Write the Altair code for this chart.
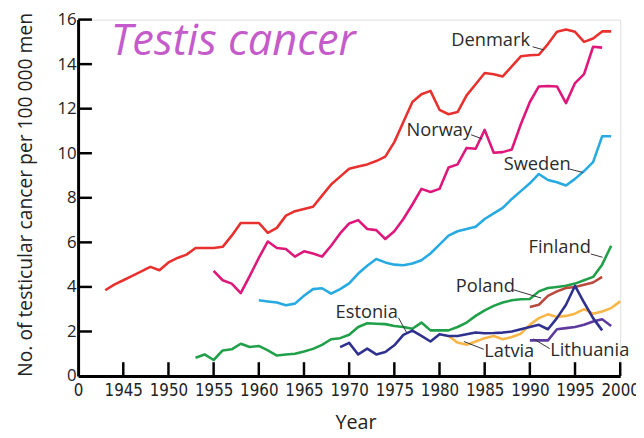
import altair as alt
import pandas as pd

countries = ["Denmark", "Norway", "Sweden", "Finland", "Poland", "Latvia", "Lithuania", "Estonia"]
colors = ["#E8312F", "#E0177A", "#27AAE1", "#21A04A", "#B84A3E", "#F9B648", "#5E3A9E", "#2F318F"]

denmark_years = list(range(1943, 2000))
denmark_vals = [3.85, 4.1, 4.3, 4.5, 4.7, 4.9, 4.75, 5.1, 5.3, 5.45,
                5.75, 5.75, 5.75, 5.8, 6.3, 6.87, 6.87, 6.87, 6.43, 6.65,
                7.2, 7.4, 7.5, 7.6, 8.1, 8.6, 8.95, 9.3, 9.4, 9.5,
                9.65, 9.85, 10.5, 11.4, 12.3, 12.65, 12.8, 11.95, 11.75, 11.85,
                12.6, 13.1, 13.6, 13.55, 13.45, 13.9, 14.35, 14.4, 14.42, 14.9,
                15.45, 15.55, 15.45, 15.0, 15.15, 15.47, 15.47]

norway_years = list(range(1955, 1999))
norway_vals = [4.72, 4.3, 4.15, 3.72, 4.5, 5.3, 6.04, 5.75, 5.7, 5.36,
               5.6, 5.5, 5.36, 5.85, 6.4, 6.85, 7.0, 6.6, 6.55, 6.15,
               6.5, 7.05, 7.7, 8.4, 8.26, 8.4, 9.36, 9.5, 10.24, 10.2,
               11.05, 10.02, 10.05, 10.17, 11.3, 12.3, 13.0, 13.02, 13.0, 12.25,
               13.15, 13.55, 14.78, 14.74]

sweden_years = list(range(1960, 2000))
sweden_vals = [3.4, 3.35, 3.3, 3.18, 3.25, 3.6, 3.9, 3.94, 3.7, 3.9,
               4.16, 4.6, 4.95, 5.25, 5.1, 5.0, 4.97, 5.05, 5.2, 5.5,
               5.9, 6.3, 6.5, 6.6, 6.7, 7.05, 7.3, 7.55, 7.95, 8.3,
               8.65, 9.07, 8.8, 8.7, 8.55, 8.85, 9.2, 9.6, 10.76, 10.76]

finland_years = list(range(1953, 2000))
finland_vals = [0.82, 0.97, 0.72, 1.15, 1.2, 1.45, 1.3, 1.35, 1.15, 0.92,
                0.97, 1.0, 1.1, 1.22, 1.4, 1.65, 1.7, 1.85, 2.2, 2.37,
                2.35, 2.33, 2.25, 2.2, 2.12, 2.4, 2.05, 2.05, 2.05, 2.2,
                2.4, 2.7, 2.95, 3.15, 3.3, 3.4, 3.45, 3.46, 3.8, 3.95,
                4.0, 4.05, 4.15, 4.3, 4.45, 5.0, 5.85]

poland_years = list(range(1990, 1999))
poland_vals = [3.1, 3.2, 3.6, 3.8, 3.95, 4.0, 4.1, 4.2, 4.45]

estonia_years = list(range(1969, 1999))
estonia_vals = [1.3, 1.49, 0.97, 1.23, 0.97, 1.08, 1.38, 1.85, 2.04, 1.8,
                1.55, 1.88, 1.8, 1.8, 1.88, 1.95, 1.92, 1.93, 1.95, 2.0,
                2.1, 2.2, 2.3, 2.1, 2.6, 3.2, 4.05, 3.3, 2.6, 2.05]

latvia_years = list(range(1981, 2001))
latvia_vals = [1.8, 1.5, 1.4, 1.55, 1.7, 1.8, 1.65, 1.75, 1.9, 2.3,
               2.6, 2.77, 2.65, 2.7, 2.8, 3.0, 2.8, 2.9, 3.05, 3.35]

lithuania_years = list(range(1990, 2000))
lithuania_vals = [1.6, 1.6, 1.6, 2.1, 2.15, 2.2, 2.3, 2.45, 2.55, 2.25]

x_ticks = [1940, 1945, 1950, 1955, 1960, 1965, 1970, 1975, 1980, 1985, 1990, 1995, 2000]
y_ticks = [0, 2, 4, 6, 8, 10, 12, 14, 16]

# label annotations (text anchor + leader line in data units)
label_names = ["Denmark", "Norway", "Sweden", "Finland", "Poland", "Estonia", "Latvia", "Lithuania"]
label_x = [1981.3, 1976.35, 1987.1, 1989.85, 1981.8, 1968.5, 1984.95, 1992.25]
label_y = [15.08, 11.05, 9.51, 5.77, 4.04, 2.86, 1.1, 1.16]
leader_x1 = [1990.3, 1983.5, 1994.4, 1996.75, 1988.2, 1975.45, 1984.9, 1992.2]
leader_y1 = [14.78, 10.83, 9.29, 5.48, 3.87, 2.62, 1.2, 1.23]
leader_x2 = [1991.55, 1984.75, 1995.85, 1998.05, 1991.25, 1976.35, 1982.7, 1990.4]
leader_y2 = [14.64, 10.64, 9.14, 5.33, 3.5, 1.96, 1.55, 1.67]

series = {
    "Denmark": (denmark_years, denmark_vals),
    "Norway": (norway_years, norway_vals),
    "Sweden": (sweden_years, sweden_vals),
    "Finland": (finland_years, finland_vals),
    "Poland": (poland_years, poland_vals),
    "Latvia": (latvia_years, latvia_vals),
    "Lithuania": (lithuania_years, lithuania_vals),
    "Estonia": (estonia_years, estonia_vals),
}
rows = []
for i, c in enumerate(countries):
    ys, vs = series[c]
    for y, v in zip(ys, vs):
        rows.append({"Country": c, "Year": y, "Value": v, "ord": i})
df = pd.DataFrame(rows)

W, H = 549, 361
xscale = alt.Scale(domain=[1940, 2000], nice=False, zero=False)
yscale = alt.Scale(domain=[0, 16], nice=False)

lines = alt.Chart(df).mark_line(strokeWidth=2.6, strokeJoin="round").encode(
    x=alt.X("Year:Q", scale=xscale,
            axis=alt.Axis(values=x_ticks, format="d", grid=False, ticks=False,
                          domainWidth=3, domainColor="black", labelFont="Liberation Sans Narrow, DejaVu Sans Condensed, sans-serif",
                          labelFontSize=17, labelColor="#222", labelPadding=7, labelFlush=False,
                          labelOverlap=False,
                          labelExpr="datum.value == 1940 ? '0' : datum.label",
                          title="Year", titleFont="Open Sans", titleFontSize=20, titleFontWeight="normal",
                          titleColor="#222", titleX=281, titleY=53, titleBaseline="alphabetic")),
    y=alt.Y("Value:Q", scale=yscale,
            axis=alt.Axis(values=y_ticks, grid=False, ticks=False, domainWidth=3, domainColor="black",
                          labelFont="Open Sans", labelFontSize=17, labelColor="#222", labelPadding=2,
                          title="No. of testicular cancer per 100 000 men", titleFont="Open Sans",
                          titleFontSize=19.5, titleFontWeight="normal", titleColor="#222",
                          titleX=-47, titleY=177, titleAngle=270, titleBaseline="alphabetic",
                          titleAlign="center")),
    color=alt.Color("Country:N", scale=alt.Scale(domain=countries, range=colors), legend=None),
    detail="Country:N",
)

xt = pd.DataFrame({"t": x_ticks[1:]})
xtick_layer = alt.Chart(xt).mark_rule(color="black", strokeWidth=2.5).encode(
    x=alt.X("t:Q", scale=xscale), y=alt.value(H - 14), y2=alt.value(H)
)
yt = pd.DataFrame({"t": y_ticks[1:]})
ytick_layer = alt.Chart(yt).mark_rule(color="black", strokeWidth=2.5).encode(
    y=alt.Y("t:Q", scale=yscale), x=alt.value(0), x2=alt.value(14)
)

lab = pd.DataFrame({"name": label_names, "x": label_x, "y": label_y,
                    "x1": leader_x1, "y1": leader_y1, "x2": leader_x2, "y2": leader_y2})
text_layer = alt.Chart(lab).mark_text(align="left", baseline="middle", font="Open Sans",
                                      fontSize=18.5, color="#2b2b2b").encode(
    x=alt.X("x:Q", scale=xscale), y=alt.Y("y:Q", scale=yscale), text="name:N"
)
leader_layer = alt.Chart(lab).mark_rule(color="#333", strokeWidth=1).encode(
    x=alt.X("x1:Q", scale=xscale), y=alt.Y("y1:Q", scale=yscale),
    x2="x2:Q", y2="y2:Q"
)

title_df = pd.DataFrame({"t": ["Testis cancer"]})
title_layer = alt.Chart(title_df).mark_text(align="left", baseline="alphabetic", font="Open Sans",
                                            fontSize=44, fontStyle="italic", color="#C55BCB").encode(
    x=alt.value(33), y=alt.value(36), text="t:N"
)

chart = alt.layer(lines, xtick_layer, ytick_layer, leader_layer, text_layer, title_layer).properties(
    width=W, height=H,
    autosize=alt.AutoSizeParams(type="none"),
    padding={"left": 71, "top": 9, "right": 16, "bottom": 58},
).configure_view(stroke=None).configure(background="white")

chart.save("out.html", embed_options={"renderer": "svg", "actions": False})
